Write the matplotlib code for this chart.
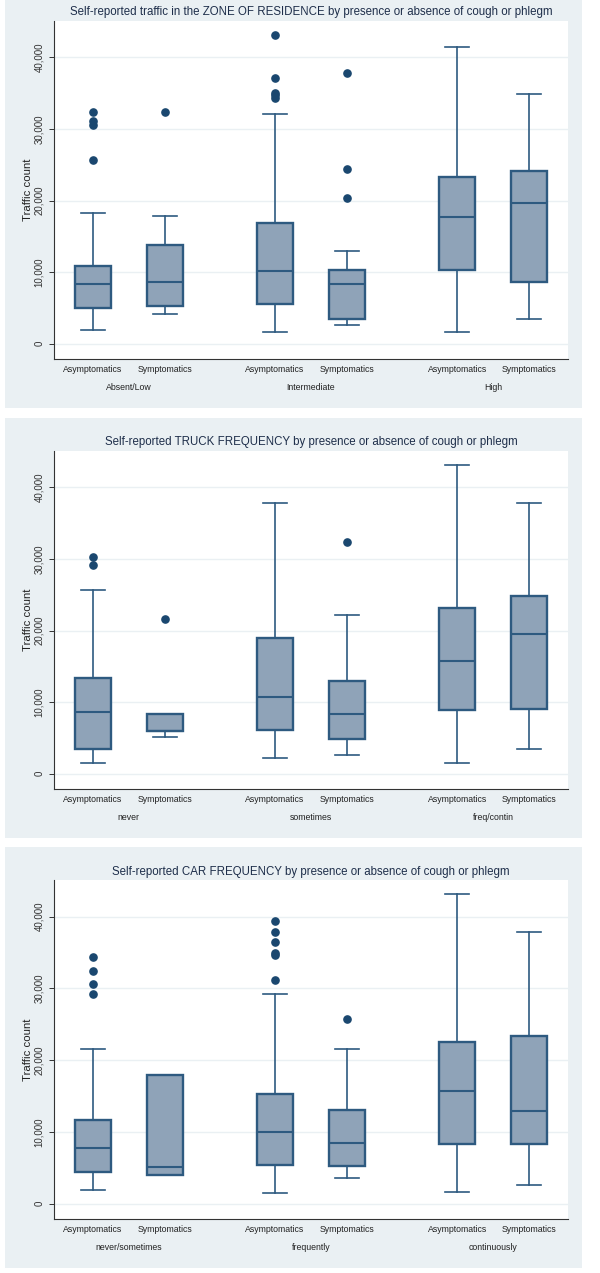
import matplotlib
matplotlib.use("Agg")
import matplotlib.pyplot as plt
import matplotlib.transforms as mtransforms
from matplotlib.patches import Rectangle
from matplotlib.ticker import FuncFormatter

plt.rcParams['font.family'] = ['Liberation Sans', 'DejaVu Sans']

status = ["Asymptomatics", "Symptomatics"]

# panel 1: zone of residence
zone_groups = ["Absent/Low", "Intermediate", "High"]
zone_q1 = [5000, 5200, 5600, 3500, 10300, 8650]
zone_med = [8300, 8650, 10100, 8400, 17750, 19600]
zone_q3 = [10900, 13850, 16900, 10300, 23300, 24200]
zone_lo = [1950, 4100, 1600, 2650, 1600, 3450]
zone_hi = [18200, 17900, 32100, 13000, 41500, 34900]
zone_out = [[25700, 30600, 31100, 32400], [32400],
            [34400, 34700, 35000, 37100, 43100], [20400, 24400, 37800], [], []]

# panel 2: truck frequency
truck_groups = ["never", "sometimes", "freq/contin"]
truck_q1 = [3500, 6000, 6150, 4900, 8940, 8980]
truck_med = [8660, 6000, 10650, 8330, 15800, 19500]
truck_q3 = [13300, 8400, 18950, 13000, 23200, 24800]
truck_lo = [1540, 5100, 2200, 2600, 1500, 3440]
truck_hi = [25650, 8400, 37800, 22150, 43100, 37800]
truck_out = [[29200, 30300], [21550], [], [32400], [], []]

# panel 3: car frequency
car_groups = ["never/sometimes", "frequently", "continuously"]
car_q1 = [4470, 4050, 5350, 5170, 8300, 8340]
car_med = [7800, 5030, 10000, 8430, 15650, 12850]
car_q3 = [11650, 17980, 15270, 13000, 22500, 23300]
car_lo = [1900, 4050, 1500, 3500, 1600, 2600]
car_hi = [21600, 17980, 29250, 21550, 43100, 37800]
car_out = [[29250, 30600, 32450, 34300], [],
           [31150, 34600, 34900, 36500, 37800, 39400], [25660], [], []]

W, H = 600, 1273
BG = "#EAF0F3"
FILL = "#8FA3B8"
EDGE = "#2E5A80"
DOT = "#1A476F"

fig = plt.figure(figsize=(W / 100, H / 100), dpi=100)


def fx(x):
    return x / W


def fy(y):
    return 1 - y / H


def panel(bg_top, bg_bot, ax_top, ax_bot, title, title_y, tick_y, grp_y,
          groups, q1, med, q3, lo, hi, out):
    fig.patches.append(Rectangle((fx(4.5), fy(bg_bot)), fx(582) - fx(4.5),
                                 fy(bg_top) - fy(bg_bot), transform=fig.transFigure,
                                 facecolor=BG, edgecolor="none", zorder=-10))
    ax = fig.add_axes([fx(54), fy(ax_bot), fx(568) - fx(54), fy(ax_top) - fy(ax_bot)])
    ax.set_zorder(1)
    ax.set_facecolor("white")
    pos = [0, 1, 2.53, 3.53, 5.06, 6.06]
    stats = []
    for i in range(6):
        stats.append(dict(q1=q1[i], med=med[i], q3=q3[i], whislo=lo[i],
                          whishi=hi[i], fliers=out[i]))
    ax.bxp(stats, positions=pos, widths=0.5, capwidths=0.33, patch_artist=True,
           boxprops=dict(facecolor=FILL, edgecolor=EDGE, linewidth=1.7),
           medianprops=dict(color=EDGE, linewidth=1.5),
           whiskerprops=dict(color=EDGE, linewidth=1.2),
           capprops=dict(color=EDGE, linewidth=1.2),
           flierprops=dict(marker="o", markerfacecolor=DOT, markeredgecolor=DOT,
                           markersize=5.2, linestyle="none"))
    ax.set_xlim(-0.54, 6.6)
    ax.set_ylim(-2150, 45100)
    ax.set_yticks([0, 10000, 20000, 30000, 40000])
    ax.yaxis.set_major_formatter(FuncFormatter(lambda v, p: f"{int(v):,}"))
    ax.grid(axis="y", color=BG, linewidth=1.0)
    ax.set_axisbelow(True)
    for s in ["top", "right"]:
        ax.spines[s].set_visible(False)
    for s in ["left", "bottom"]:
        ax.spines[s].set_color("#333333")
        ax.spines[s].set_linewidth(0.8)
    ax.tick_params(axis="y", length=3.5, width=0.7, color="#333333",
                   labelsize=7.0, labelrotation=90, pad=3.5, labelcolor="#333333")
    for lab in ax.get_yticklabels():
        lab.set_va("center")
    ax.set_xticks([])
    trans = mtransforms.blended_transform_factory(ax.transData, fig.transFigure)
    for i in range(6):
        ax.text(pos[i], fy(tick_y), status[i % 2], transform=trans, ha="center",
                va="center", fontsize=6.3, color="#222222", clip_on=False)
    for g in range(3):
        ax.text((pos[2 * g] + pos[2 * g + 1]) / 2, fy(grp_y), groups[g], transform=trans,
                ha="center", va="center", fontsize=6.3, color="#222222", clip_on=False)
    fig.text(fx(311), fy(title_y), title, ha="center", va="center", fontsize=8.3,
             color="#1E2E4A")
    fig.text(fx(28), fy((ax_top + ax_bot) / 2), "Traffic count", rotation=90,
             ha="center", va="center", fontsize=8.2, color="#222222")


panel(0, 408, 21, 359,
      "Self-reported traffic in the ZONE OF RESIDENCE by presence or absence of cough or phlegm",
      12.5, 370, 387.5, zone_groups, zone_q1, zone_med, zone_q3, zone_lo, zone_hi, zone_out)
panel(418, 838, 451, 789,
      "Self-reported TRUCK FREQUENCY by presence or absence of cough or phlegm",
      441.7, 799.5, 817, truck_groups, truck_q1, truck_med, truck_q3, truck_lo, truck_hi,
      truck_out)
panel(847, 1268, 880, 1219,
      "Self-reported CAR FREQUENCY by presence or absence of cough or phlegm",
      871.7, 1229, 1247, car_groups, car_q1, car_med, car_q3, car_lo, car_hi, car_out)

fig.savefig("out.png", dpi=100)
